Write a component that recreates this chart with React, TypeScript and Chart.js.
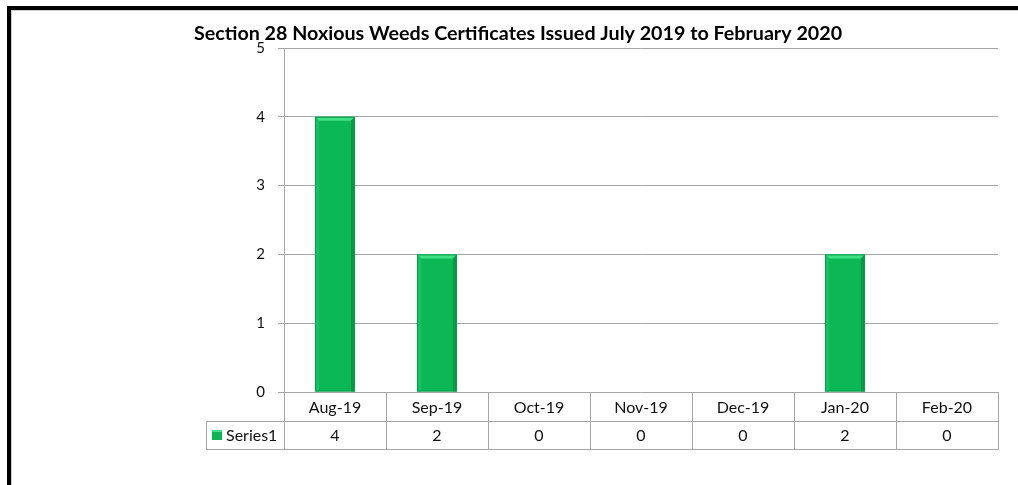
import React, { useEffect, useRef } from "react";
import { Chart, registerables } from "chart.js";

Chart.register(...registerables);

const titleText = "Section 28 Noxious Weeds Certificates Issued July 2019 to February 2020";
const categories = ["Aug-19", "Sep-19", "Oct-19", "Nov-19", "Dec-19", "Jan-20", "Feb-20"];
const seriesName = "Series1";
const series1 = [4, 2, 0, 0, 0, 2, 0];
const yTicks = [0, 1, 2, 3, 4, 5];

const FONT = "Lato, 'Open Sans', sans-serif";
const GRID = "#a6a6a6";

const framePlugin = {
  id: "frameAndTable",
  beforeDraw(chart: any) {
    const ctx = chart.ctx;
    ctx.save();
    ctx.fillStyle = "#ffffff";
    ctx.fillRect(0, 0, chart.width, chart.height);
    ctx.fillStyle = "#000000";
    ctx.fillRect(7, 6, chart.width - 7, 4);
    ctx.fillRect(7, 6, 4, chart.height - 6);
    ctx.fillStyle = "#d0d0d0";
    ctx.fillRect(11, 10, chart.width - 11, 1);
    ctx.fillRect(11, 10, 1, chart.height - 10);
    // title
    ctx.fillStyle = "#000000";
    ctx.font = "bold 19.7px " + FONT;
    ctx.textAlign = "center";
    ctx.textBaseline = "alphabetic";
    ctx.fillText(titleText, 518, 40);
    ctx.restore();
  },
  afterDatasetsDraw(chart: any) {
    const ctx = chart.ctx;
    const meta = chart.getDatasetMeta(0);
    ctx.save();
    meta.data.forEach((bar: any) => {
      const { x, y, base, width } = bar.getProps(["x", "y", "base", "width"], true);
      if (base - y < 1) return;
      const l = x - width / 2;
      const r = x + width / 2;
      const b = 4;
      ctx.fillStyle = "#3ee184";
      ctx.beginPath();
      ctx.moveTo(l, y);
      ctx.lineTo(r, y);
      ctx.lineTo(r - b, y + b);
      ctx.lineTo(l + b, y + b);
      ctx.closePath();
      ctx.fill();
      ctx.fillStyle = "#13c562";
      ctx.beginPath();
      ctx.moveTo(l, y);
      ctx.lineTo(l + b, y + b);
      ctx.lineTo(l + b, base);
      ctx.lineTo(l, base);
      ctx.closePath();
      ctx.fill();
      ctx.fillStyle = "#079a45";
      ctx.beginPath();
      ctx.moveTo(r, y);
      ctx.lineTo(r - b, y + b);
      ctx.lineTo(r - b, base);
      ctx.lineTo(r, base);
      ctx.closePath();
      ctx.fill();
      ctx.strokeStyle = "#0a9c48";
      ctx.lineWidth = 1;
      ctx.strokeRect(l + 0.5, y + 0.5, width - 1, base - y - 1);
    });
    ctx.restore();
  },
  afterDraw(chart: any) {
    const ctx = chart.ctx;
    const area = chart.chartArea;
    const xs = chart.scales.x;
    const top = area.bottom;
    const mid = top + 29;
    const bot = top + 57;
    const legendLeft = 206;
    ctx.save();
    ctx.strokeStyle = GRID;
    ctx.lineWidth = 1;
    const h = (y: number, x1: number, x2: number) => {
      ctx.beginPath();
      ctx.moveTo(x1, Math.round(y) + 0.5);
      ctx.lineTo(x2, Math.round(y) + 0.5);
      ctx.stroke();
    };
    const v = (x: number, y1: number, y2: number) => {
      ctx.beginPath();
      ctx.moveTo(Math.round(x) + 0.5, y1);
      ctx.lineTo(Math.round(x) + 0.5, y2);
      ctx.stroke();
    };
    h(mid, legendLeft, area.right);
    h(bot, legendLeft, area.right);
    v(legendLeft, mid, bot + 0.5);
    const step = xs.getPixelForValue(1) - xs.getPixelForValue(0);
    for (let i = 0; i <= categories.length; i++) {
      const xb = i < categories.length ? xs.getPixelForValue(i) - step / 2 : area.right;
      v(xb, top, bot + 0.5);
    }
    ctx.fillStyle = "#111111";
    ctx.font = "16px " + FONT;
    ctx.textAlign = "center";
    ctx.textBaseline = "middle";
    categories.forEach((c, i) => {
      const cx = xs.getPixelForValue(i);
      ctx.fillText(c, cx, (top + mid) / 2 + 1);
      ctx.fillText(String(series1[i]), cx, (mid + bot) / 2 + 1);
    });
    ctx.fillStyle = "#0db456";
    ctx.fillRect(212, mid + 9, 10, 10);
    ctx.fillStyle = "#3ee184";
    ctx.fillRect(212, mid + 9, 10, 2);
    ctx.fillStyle = "#111111";
    ctx.textAlign = "left";
    ctx.fillText(seriesName, 226, (mid + bot) / 2 + 1);
    ctx.restore();
  },
};

export default function App() {
  const ref = useRef<HTMLCanvasElement | null>(null);
  useEffect(() => {
    if (!ref.current) return;
    const chart = new Chart(ref.current, {
      type: "bar",
      data: {
        labels: categories,
        datasets: [
          {
            label: seriesName,
            data: series1,
            backgroundColor: "#0cb855",
            borderWidth: 0,
            barPercentage: 0.39,
            categoryPercentage: 1,
          },
        ],
      },
      options: {
        animation: false,
        responsive: false,
        maintainAspectRatio: false,
        devicePixelRatio: 1,
        layout: { padding: { left: 234, right: 20, top: 48, bottom: 93 } },
        plugins: {
          legend: { display: false },
          title: { display: false },
          tooltip: { enabled: false },
        },
        scales: {
          x: {
            display: true,
            ticks: { display: false },
            grid: { display: false, drawTicks: false },
            border: { display: false },
          },
          y: {
            min: 0,
            max: 5,
            afterFit: (s: any) => {
              s.width = 50;
            },
            afterBuildTicks: (s: any) => {
              s.ticks = yTicks.map((value) => ({ value }));
            },
            ticks: {
              stepSize: 1,
              padding: 13,
              color: "#111111",
              font: { family: FONT, size: 15 },
            },
            grid: { color: GRID, tickLength: 6, lineWidth: 1 },
            border: { display: true, color: GRID },
          },
        },
      },
      plugins: [framePlugin],
    });
    return () => chart.destroy();
  }, []);
  return (
    <div style={{ position: "absolute", left: 0, top: 0, width: 1018, height: 485 }}>
      <canvas ref={ref} width={1018} height={485} style={{ width: 1018, height: 485, display: "block" }} />
    </div>
  );
}
